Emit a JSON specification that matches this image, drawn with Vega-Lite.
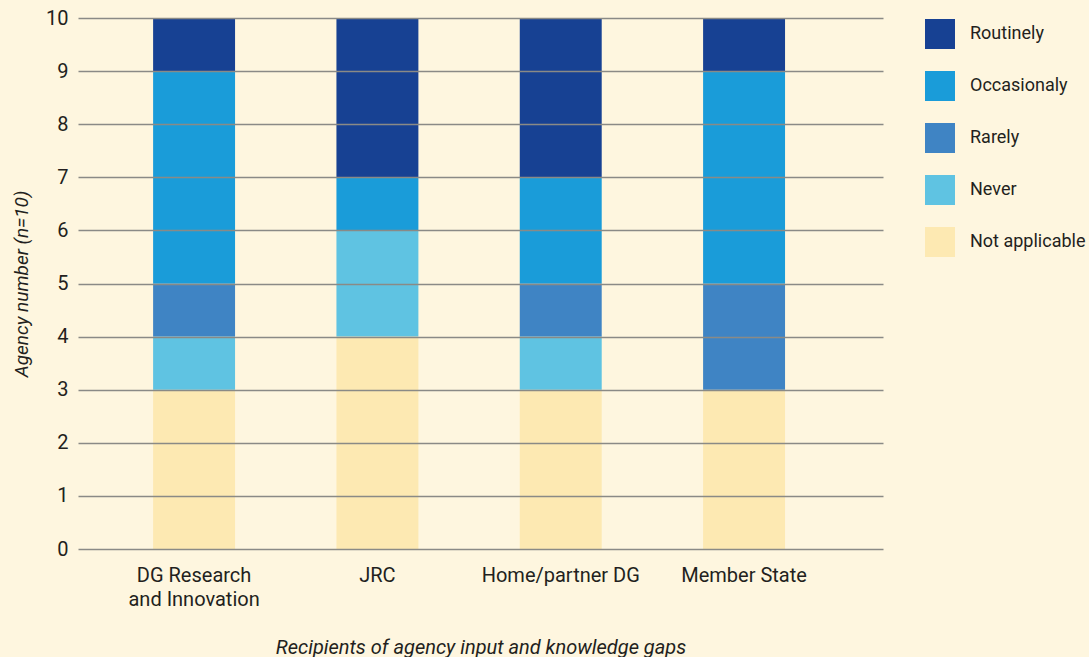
{
  "$schema": "https://vega.github.io/schema/vega-lite/v6.json",
  "autosize": "none",
  "width": 805,
  "height": 531,
  "padding": {"left": 78, "top": 18, "right": 206, "bottom": 108},
  "background": "#FEF6DF",
  "config": {
    "view": {"stroke": null},
    "font": "Roboto",
    "axis": {"labelFont": "Roboto", "titleFont": "Roboto", "labelColor": "#231F20", "titleColor": "#231F20"},
    "legend": {"labelFont": "Roboto"}
  },
  "data": {
    "values": [
      {"recipient": "DG Research and Innovation", "frequency": "Not applicable", "rank": 1, "count": 3},
      {"recipient": "DG Research and Innovation", "frequency": "Never", "rank": 2, "count": 1},
      {"recipient": "DG Research and Innovation", "frequency": "Rarely", "rank": 3, "count": 1},
      {"recipient": "DG Research and Innovation", "frequency": "Occasionaly", "rank": 4, "count": 4},
      {"recipient": "DG Research and Innovation", "frequency": "Routinely", "rank": 5, "count": 1},
      {"recipient": "JRC", "frequency": "Not applicable", "rank": 1, "count": 4},
      {"recipient": "JRC", "frequency": "Never", "rank": 2, "count": 2},
      {"recipient": "JRC", "frequency": "Rarely", "rank": 3, "count": 0},
      {"recipient": "JRC", "frequency": "Occasionaly", "rank": 4, "count": 1},
      {"recipient": "JRC", "frequency": "Routinely", "rank": 5, "count": 3},
      {"recipient": "Home/partner DG", "frequency": "Not applicable", "rank": 1, "count": 3},
      {"recipient": "Home/partner DG", "frequency": "Never", "rank": 2, "count": 1},
      {"recipient": "Home/partner DG", "frequency": "Rarely", "rank": 3, "count": 1},
      {"recipient": "Home/partner DG", "frequency": "Occasionaly", "rank": 4, "count": 2},
      {"recipient": "Home/partner DG", "frequency": "Routinely", "rank": 5, "count": 3},
      {"recipient": "Member State", "frequency": "Not applicable", "rank": 1, "count": 3},
      {"recipient": "Member State", "frequency": "Never", "rank": 2, "count": 0},
      {"recipient": "Member State", "frequency": "Rarely", "rank": 3, "count": 2},
      {"recipient": "Member State", "frequency": "Occasionaly", "rank": 4, "count": 4},
      {"recipient": "Member State", "frequency": "Routinely", "rank": 5, "count": 1}
    ]
  },
  "mark": {"type": "bar"},
  "encoding": {
    "x": {
      "field": "recipient",
      "type": "nominal",
      "sort": ["DG Research and Innovation", "JRC", "Home/partner DG", "Member State"],
      "scale": {"paddingInner": 0.553, "paddingOuter": 0.472, "align": 0.434},
      "axis": {
        "title": "Recipients of agency input and knowledge gaps",
        "titleFontStyle": "italic",
        "titleFontWeight": "normal",
        "titleFontSize": 20,
        "titlePadding": 28,
        "labelAngle": 0,
        "labelFontSize": 20,
        "labelPadding": 16,
        "labelLineHeight": 24,
        "labelExpr": "datum.value == 'DG Research and Innovation' ? ['DG Research', 'and Innovation'] : datum.label",
        "domain": false,
        "ticks": false
      }
    },
    "y": {
      "field": "count",
      "type": "quantitative",
      "stack": "zero",
      "scale": {"domain": [0, 10], "nice": false},
      "axis": {
        "title": "Agency number (n=10)",
        "titleFontStyle": "italic",
        "titleFontWeight": "normal",
        "titleFontSize": 19,
        "titlePadding": 14,
        "values": [0, 1, 2, 3, 4, 5, 6, 7, 8, 9, 10],
        "labelFontSize": 20,
        "labelPadding": 10,
        "domain": false,
        "ticks": false,
        "grid": true,
        "gridColor": "#8A8A86",
        "gridWidth": 1.5,
        "zindex": 1
      }
    },
    "color": {
      "field": "frequency",
      "type": "nominal",
      "scale": {
        "domain": ["Routinely", "Occasionaly", "Rarely", "Never", "Not applicable"],
        "range": ["#174193", "#1A9CD9", "#3F84C4", "#5FC3E2", "#FDE9B2"]
      },
      "legend": {
        "title": null,
        "orient": "none",
        "legendX": 847,
        "legendY": 1,
        "padding": 0,
        "symbolType": "square",
        "symbolSize": 900,
        "symbolStrokeWidth": 0,
        "symbolOpacity": 1,
        "labelFontSize": 18,
        "labelColor": "#231F20",
        "labelOffset": 15,
        "rowPadding": 22,
        "labelLimit": 200
      }
    },
    "order": {"field": "rank", "type": "quantitative"}
  }
}
